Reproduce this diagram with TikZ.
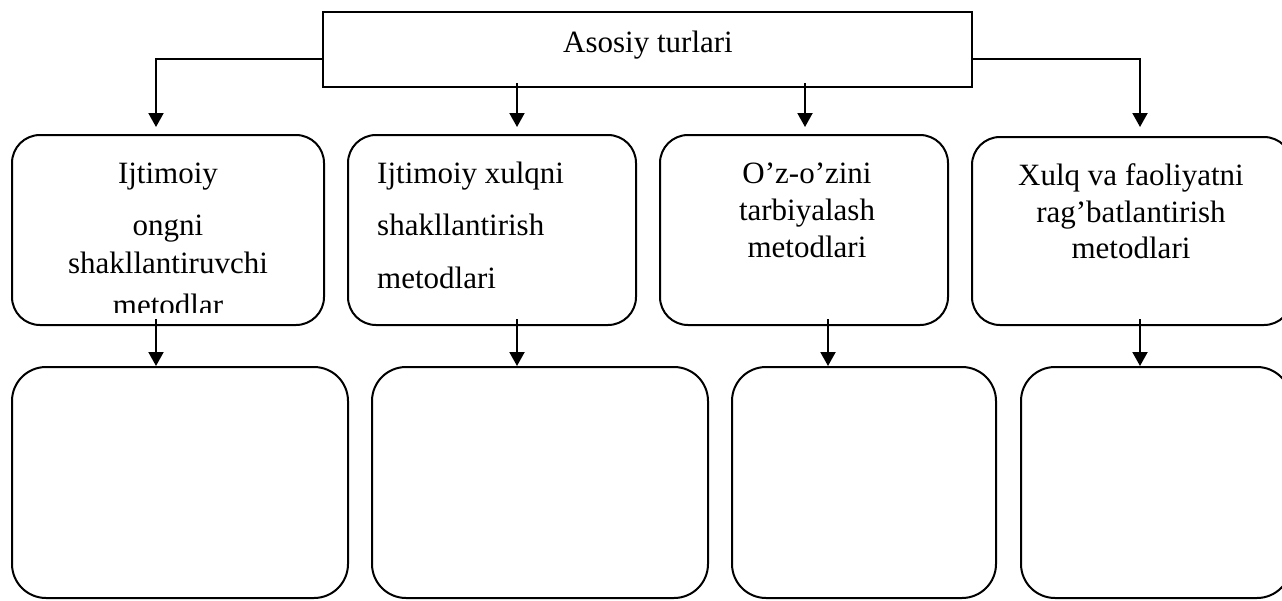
\documentclass[tikz,border=0pt]{standalone}
\usepackage{fontspec}
\setmainfont{Liberation Serif}
\usetikzlibrary{arrows.meta,calc}
\begin{document}
\begin{tikzpicture}[x=1pt,y=-1pt,
  every node/.style={font=\fontsize{31}{36}\selectfont},
  plainbox/.style={draw,line width=2pt,minimum width=#1,inner sep=0pt},
  midbox/.style={draw,line width=2pt,rounded corners=28pt,minimum width=#1,minimum height=190pt,inner sep=0pt},
  lowbox/.style={draw,line width=2pt,rounded corners=34pt,minimum width=#1,minimum height=231pt,inner sep=0pt},
  lbl/.style={inner sep=0pt,anchor=base},
  lbll/.style={inner sep=0pt,anchor=base west},
  arr/.style={line width=2pt,-{Triangle[width=15pt,length=14pt]}}]
\useasboundingbox (0,0) rectangle (1282,600);
% boxes
\node[plainbox=649pt,minimum height=75pt] (top) at (647.5,49.5) {};
\node[midbox=312pt] (b1) at (168,230) {};
\node[midbox=288pt] (b2) at (492,230) {};
\node[midbox=288pt] (b3) at (804,230) {};
\node[midbox=320pt,minimum height=188pt] (b4) at (1132,231) {};
\node[lowbox=336pt] (c1) at (180,482.5) {};
\node[lowbox=336pt] (c2) at (540,482.5) {};
\node[lowbox=264pt] (c3) at (864,482.5) {};
\node[lowbox=270pt] (c4) at (1156,482.5) {};
% texts
\node[lbl] (t0) at (648,52) {Asosiy turlari};
\node[lbl] (t11) at (168,183) {Ijtimoiy};
\node[lbl] (t12) at (168,235) {ongni};
\node[lbl] (t13) at (168,273) {shakllantiruvchi};
\begin{scope}
\clip (0,0) rectangle (1282,312);
\node[lbl] (t14) at (168,315) {metodlar};
\end{scope}
\node[lbll] (t21) at (377,183) {Ijtimoiy xulqni};
\node[lbll] (t22) at (377,235) {shakllantirish};
\node[lbll] (t23) at (377,288) {metodlari};
\node[lbl] (t31) at (807,183) {O’z-o’zini};
\node[lbl] (t32) at (807,220) {tarbiyalash};
\node[lbl] (t33) at (807,257) {metodlari};
\node[lbl] (t41) at (1131,185) {Xulq va faoliyatni};
\node[lbl] (t42) at (1131,222) {rag’batlantirish};
\node[lbl] (t43) at (1131,258) {metodlari};
% arrow x positions
\coordinate (x1) at (156,0);
\coordinate (x2) at (517,0);
\coordinate (x3) at (805,0);
\coordinate (x3b) at (828,0);
\coordinate (x4) at (1140,0);
% connectors
\draw[arr] ($(top.west)+(0,9.5)$) -| ($(b1.north -| x1)+(0,-7)$);
\draw[arr] ($(top.south -| x2)+(0,-5)$) -- ($(b2.north -| x2)+(0,-7)$);
\draw[arr] ($(top.south -| x3)+(0,-5)$) -- ($(b3.north -| x3)+(0,-7)$);
\draw[arr] ($(top.east)+(0,9.5)$) -| ($(b4.north -| x4)+(0,-9)$);
\draw[arr] ($(b1.south -| x1)+(0,-7)$) -- (c1.north -| x1);
\draw[arr] ($(b2.south -| x2)+(0,-7)$) -- (c2.north -| x2);
\draw[arr] ($(b3.south -| x3b)+(0,-7)$) -- (c3.north -| x3b);
\draw[arr] ($(b4.south -| x4)+(0,-7)$) -- (c4.north -| x4);
\end{tikzpicture}
\end{document}
